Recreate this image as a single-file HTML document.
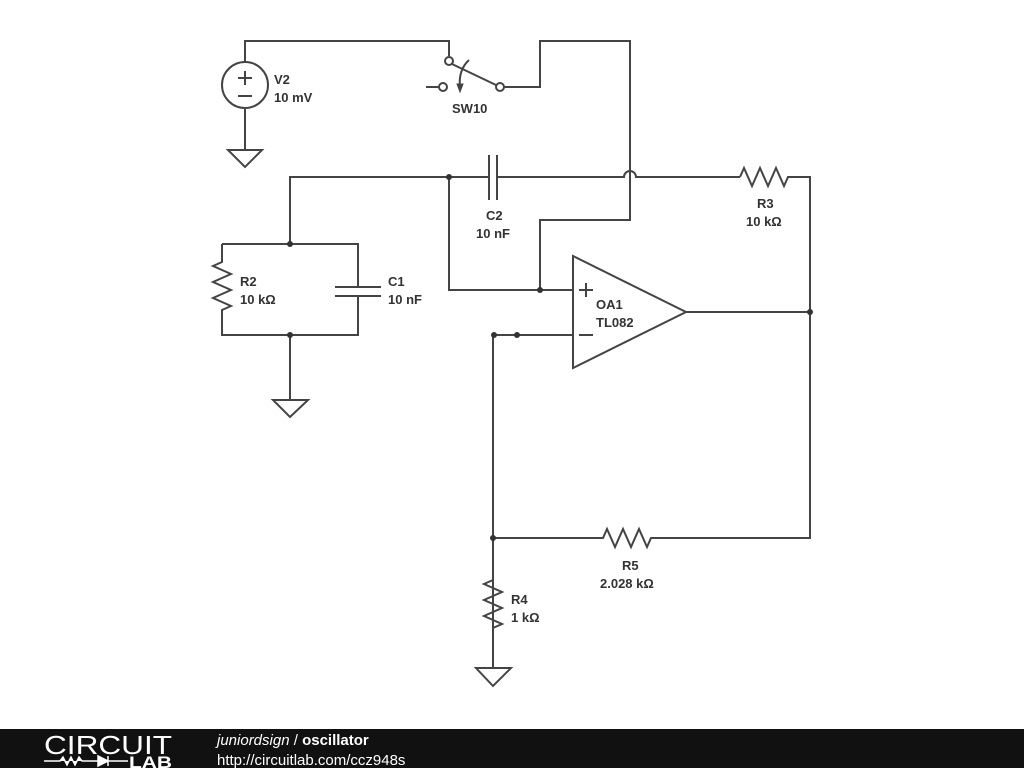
<!DOCTYPE html>
<html><head><meta charset="utf-8"><style>
html,body{margin:0;padding:0;background:#fff;width:1024px;height:768px;overflow:hidden}
svg{display:block}
text{font-family:"Liberation Sans",sans-serif;font-weight:bold;font-size:13px;fill:#333}
</style></head><body>
<svg width="1024" height="768" viewBox="0 0 1024 768">
<g stroke="#444" stroke-width="2" fill="none" stroke-linejoin="miter">
<!-- V2 -->
<path d="M245,62 V41 H449 V56"/>
<circle cx="245" cy="85" r="23"/>
<path d="M238,78 H252 M245,71 V85 M238,96 H252"/>
<path d="M245,108 V150"/>
<path d="M228,150 H262 L245,167 Z"/>
<!-- switch -->
<circle cx="449" cy="61" r="4" fill="#fff"/>
<circle cx="443" cy="87" r="4" fill="#fff"/>
<circle cx="500" cy="87" r="4" fill="#fff"/>
<path d="M426,87 H439"/>
<path d="M452,64 L496,85"/>
<path d="M469,60 Q458,70 460,88"/>
<path d="M457,84 L460,92 L463,84 Z" fill="#444" stroke-width="1"/>
<path d="M504,87 H540 V41 H630 V220 H540 V290"/>
<!-- top rail -->
<path d="M290,244 V177 H489 M489,155 V200 M497,155 V200 M497,177 H624 A6,6 0 0 1 636,177 H740"/>
<path d="M740,177 l4,-9 l8,18 l8,-18 l8,18 l8,-18 l8,18 l4,-9 H810 V538 H657"/>
<path d="M449,177 V290 H573"/>
<!-- R2 C1 -->
<path d="M222,244 H358 V287 M358,296 V335 H222 V315"/>
<path d="M222,244 V262 l-9,4 l18,8 l-18,8 l18,8 l-18,8 l18,8 l-9,4 V315"/>
<path d="M335,287 H381 M335,296 H381"/>
<path d="M290,335 V400 M273,400 H308 L290,417 Z"/>
<!-- opamp -->
<path d="M573,256 V368 L686,312 Z"/>
<path d="M686,312 H810"/>
<path d="M579,290 H593 M586,283 V297 M579,335 H593"/>
<path d="M573,335 H493 V668"/>
<path d="M493,538 H603 l4,-9 l8,18 l8,-18 l8,18 l8,-18 l8,18 l4,-9 H657"/>
<path d="M493,580 l-9,4 l18,8 l-18,8 l18,8 l-18,8 l18,8 l-9,4"/>
<path d="M476,668 H511 L493,686 Z"/>
</g>
<g fill="#333">
<circle cx="449" cy="177" r="3"/><circle cx="290" cy="244" r="3"/><circle cx="290" cy="335" r="3"/>
<circle cx="540" cy="290" r="3"/><circle cx="494" cy="335" r="3"/><circle cx="517" cy="335" r="3"/>
<circle cx="810" cy="312" r="3"/><circle cx="493" cy="538" r="3"/>
</g>
<text x="274" y="84">V2</text><text x="274" y="102">10 mV</text>
<text x="452" y="113">SW10</text>
<text x="486" y="220">C2</text><text x="476" y="238">10 nF</text>
<text x="757" y="208">R3</text><text x="746" y="226">10 kΩ</text>
<text x="240" y="286">R2</text><text x="240" y="304">10 kΩ</text>
<text x="388" y="286">C1</text><text x="388" y="304">10 nF</text>
<text x="596" y="309">OA1</text><text x="596" y="327">TL082</text>
<text x="622" y="570">R5</text><text x="600" y="588">2.028 kΩ</text>
<text x="511" y="604">R4</text><text x="511" y="622">1 kΩ</text>
<!-- footer -->
<rect x="0" y="729" width="1024" height="39" fill="#111"/>
<text x="44" y="754" textLength="128" lengthAdjust="spacingAndGlyphs" style="font-weight:normal;font-size:26px;fill:#fff">CIRCUIT</text>
<path d="M44,761 H60 l3,-4 l4,8 l4,-8 l4,8 l4,-8 l3,4 H98 M98,756 V766 L108,761 Z M108,756 V766 M108,761 H128" stroke="#fff" stroke-width="1.5" fill="#fff"/>
<text x="129" y="768" textLength="43" lengthAdjust="spacingAndGlyphs" style="font-size:17px;fill:#fff;font-weight:bold">LAB</text>
<text x="217" y="745" style="font-weight:normal;font-style:italic;font-size:15px;fill:#fff">juniordsign <tspan font-style="normal">/</tspan> <tspan font-weight="bold" font-style="normal">oscillator</tspan></text>
<text x="217" y="765" style="font-weight:normal;font-size:15px;fill:#fff">http://circuitlab.com/ccz948s</text>
</svg>
</body></html>
